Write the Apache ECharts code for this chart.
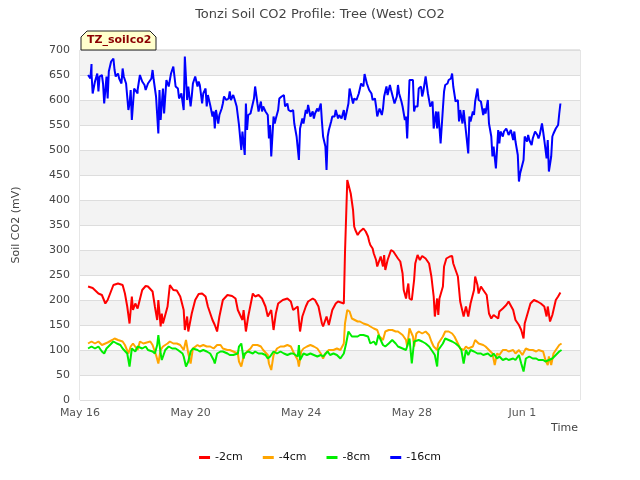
<!DOCTYPE html>
<html>
<head>
<meta charset="utf-8">
<script src="https://cdn.jsdelivr.net/npm/echarts@6/dist/echarts.min.js"></script>
<style>html,body{margin:0;padding:0;background:#fff}#c{width:640px;height:480px}</style>
</head>
<body>
<div id="c"></div>
<script>
// time in hours since May 16 00:00
var tickLabels = ['May 16','May 20','May 24','May 28','Jun 1'];
var seriesNames = ['-2cm','-4cm','-8cm','-16cm'];
var seriesColors = ['#ff0000','#ffa500','#00ee00','#0000ff'];

var red = [[7,227],[11,224],[16,213],[19,210],[22,193],[24,200],[29,230],[33,233],[37,230],[39,213],[41,187],[43,153],[45,207],[46,180],[48,193],[50,183],[54,220],[57,228],[59,227],[63,217],[65,187],[67,160],[68,200],[70,147],[71,173],[72,153],[76,187],[78,230],[81,220],[84,219],[87,207],[90,180],[91,140],[93,167],[94,137],[97,173],[100,200],[103,212],[106,213],[109,207],[111,187],[115,160],[117,150],[119,137],[121,167],[124,200],[128,210],[132,208],[135,203],[137,180],[141,160],[142,180],[144,137],[146,167],[150,213],[152,207],[155,210],[158,203],[161,187],[163,167],[166,180],[168,140],[170,173],[172,193],[176,200],[180,203],[183,197],[185,180],[189,187],[190,160],[191,137],[193,167],[196,187],[198,197],[202,203],[204,200],[207,187],[210,153],[211,147],[214,167],[216,150],[219,180],[222,193],[224,197],[229,193],[230,293],[232,440],[233,443],[235,413],[237,380],[238,347],[239,340],[241,330],[243,337],[246,343],[248,337],[250,327],[251,317],[252,310],[254,303],[255,293],[257,280],[258,267],[259,263],[261,287],[263,267],[264,290],[265,260],[267,280],[270,300],[272,297],[276,283],[278,277],[280,253],[281,220],[283,203],[284,220],[285,233],[286,203],[288,200],[290,240],[291,273],[293,290],[295,280],[297,288],[300,283],[303,273],[305,247],[307,207],[308,167],[310,203],[311,170],[312,203],[315,227],[316,267],[318,283],[321,287],[323,288],[324,273],[328,247],[330,197],[333,167],[335,187],[337,167],[339,193],[342,220],[343,247],[345,230],[346,213],[348,227],[350,220],[353,210],[355,173],[357,163],[359,170],[363,163],[364,177],[367,183],[370,190],[372,197],[376,180],[378,160],[381,150],[383,140],[385,123],[386,153],[389,177],[391,193],[394,200],[397,197],[400,193],[403,187],[405,167],[406,187],[408,157],[410,170],[411,167],[413,200],[415,207],[417,215]];

var orange = [[7,113],[10,117],[13,113],[16,117],[19,110],[22,113],[24,115],[28,120],[30,123],[33,120],[37,117],[39,110],[42,93],[44,107],[46,113],[50,100],[52,117],[55,113],[58,115],[61,117],[63,110],[66,90],[68,73],[70,100],[72,107],[76,113],[78,117],[81,113],[84,113],[87,110],[90,100],[92,120],[94,93],[96,73],[98,103],[102,110],[104,107],[107,110],[110,107],[113,107],[116,103],[119,110],[122,110],[124,103],[128,100],[130,100],[133,97],[137,93],[138,77],[140,67],[142,87],[145,97],[148,103],[150,110],[154,110],[157,107],[159,100],[163,90],[164,73],[166,60],[168,90],[171,103],[174,107],[177,107],[180,110],[183,107],[185,97],[189,80],[190,67],[192,97],[194,103],[197,107],[200,110],[203,107],[206,103],[209,93],[211,83],[213,93],[216,100],[217,97],[220,100],[223,103],[226,100],[229,113],[230,153],[232,180],[234,177],[236,163],[237,160],[241,157],[243,157],[246,153],[250,150],[252,147],[255,143],[258,140],[260,127],[263,120],[265,137],[268,140],[271,140],[274,137],[276,137],[280,130],[283,120],[284,107],[286,143],[289,127],[290,107],[292,133],[294,137],[297,133],[300,137],[303,130],[305,117],[307,107],[310,100],[311,113],[315,127],[317,137],[320,137],[323,133],[325,127],[328,113],[330,103],[333,100],[335,107],[337,103],[341,107],[343,120],[346,113],[350,110],[352,107],[355,100],[358,93],[360,70],[362,93],[364,90],[367,100],[370,100],[372,97],[376,100],[378,93],[381,100],[384,90],[387,103],[390,100],[393,100],[396,97],[398,100],[402,97],[404,80],[406,70],[407,87],[409,70],[411,93],[413,100],[416,110],[418,113]];

var green = [[7,103],[10,107],[13,103],[16,107],[19,97],[21,93],[23,103],[26,110],[29,117],[32,113],[35,110],[37,103],[41,93],[43,67],[45,103],[48,97],[50,107],[54,103],[57,107],[59,100],[63,97],[65,93],[67,110],[68,130],[70,93],[71,80],[74,100],[77,107],[80,103],[83,103],[85,100],[89,93],[90,87],[92,67],[94,77],[96,97],[98,103],[102,100],[104,97],[107,100],[110,97],[113,93],[116,80],[117,73],[119,93],[122,97],[124,97],[128,93],[130,90],[133,90],[137,93],[138,107],[140,113],[142,83],[143,93],[146,97],[150,93],[152,97],[155,93],[158,93],[161,90],[163,83],[165,87],[168,97],[171,93],[174,97],[177,93],[180,90],[183,93],[185,93],[189,87],[190,110],[191,80],[194,93],[197,90],[200,93],[203,90],[206,87],[209,90],[211,87],[215,97],[217,90],[220,93],[223,90],[226,83],[229,93],[231,113],[233,137],[236,127],[237,130],[241,127],[243,130],[246,130],[250,127],[252,113],[255,117],[257,110],[259,130],[263,110],[265,107],[268,113],[271,120],[274,113],[276,107],[280,103],[283,100],[284,100],[286,123],[288,73],[290,117],[291,117],[294,120],[297,117],[300,113],[303,107],[306,97],[308,90],[310,67],[311,100],[315,113],[317,123],[320,120],[323,117],[326,113],[329,107],[331,100],[333,73],[335,100],[337,90],[339,100],[342,97],[345,93],[348,93],[350,90],[354,93],[357,87],[359,93],[362,83],[364,87],[367,80],[370,83],[372,80],[376,83],[378,80],[381,90],[383,73],[385,57],[387,83],[390,87],[393,83],[396,83],[398,80],[402,80],[404,77],[407,80],[410,83],[413,90],[416,97],[418,100]];

var blue = [[7,650],[9,643],[10,672],[10,653],[11,613],[13,637],[15,653],[16,617],[17,647],[19,650],[20,633],[21,593],[23,647],[24,603],[25,657],[27,677],[29,683],[30,660],[31,647],[33,653],[34,643],[36,633],[37,663],[38,647],[40,633],[42,580],[43,593],[44,620],[45,560],[47,623],[50,613],[50,620],[52,650],[54,637],[56,630],[57,620],[59,633],[62,643],[63,660],[64,640],[66,607],[68,533],[69,620],[70,560],[72,623],[73,573],[75,640],[77,627],[77,630],[79,653],[81,667],[82,647],[83,627],[85,623],[86,603],[88,613],[90,580],[91,687],[93,600],[94,627],[96,587],[97,607],[98,633],[100,647],[102,627],[103,637],[104,630],[106,593],[107,613],[109,623],[110,587],[111,610],[113,590],[115,567],[116,577],[117,543],[118,580],[120,553],[121,570],[123,583],[124,593],[125,607],[127,600],[129,603],[130,617],[131,600],[133,610],[134,603],[136,587],[137,587],[138,550],[140,500],[141,537],[143,490],[144,593],[145,540],[146,570],[148,573],[150,593],[151,603],[152,627],[154,593],[155,577],[157,597],[158,577],[159,587],[161,577],[163,570],[164,523],[165,550],[166,487],[168,567],[169,553],[170,563],[172,580],[173,603],[175,607],[177,610],[178,587],[180,593],[181,580],[183,577],[185,580],[186,553],[188,527],[190,480],[191,543],[193,563],[194,553],[196,580],[197,573],[198,590],[200,567],[202,577],[203,563],[204,573],[206,583],[207,577],[209,593],[210,557],[211,527],[213,507],[214,460],[215,527],[216,540],[218,557],[219,567],[221,567],[222,580],[224,563],[225,570],[227,563],[229,580],[230,560],[231,557],[233,593],[234,623],[235,613],[237,593],[238,603],[240,600],[242,613],[243,617],[244,633],[246,627],[247,652],[249,633],[250,630],[251,620],[253,613],[254,600],[256,603],[257,587],[258,567],[260,583],[262,570],[263,583],[264,607],[266,627],[267,610],[269,630],[270,620],[271,617],[273,593],[275,607],[276,630],[277,613],[279,597],[280,587],[282,560],[283,567],[284,523],[286,640],[287,640],[289,640],[290,577],[291,587],[293,587],[294,623],[296,627],[297,607],[298,617],[300,647],[302,613],[303,617],[304,587],[306,597],[307,543],[309,577],[310,543],[311,577],[313,513],[315,583],[316,617],[317,630],[319,633],[320,640],[322,643],[323,653],[324,627],[326,597],[328,600],[329,557],[330,580],[332,553],[333,580],[335,537],[337,493],[338,567],[339,557],[341,577],[342,570],[343,597],[345,623],[346,600],[348,597],[350,570],[351,583],[352,573],[354,600],[355,553],[357,527],[358,487],[359,507],[361,463],[363,540],[364,513],[365,537],[367,527],[368,537],[370,543],[371,537],[372,530],[374,540],[376,520],[377,537],[378,517],[380,490],[381,437],[382,453],[383,453],[385,480],[386,527],[388,517],[389,530],[390,520],[392,510],[393,523],[395,537],[397,530],[398,523],[399,530],[401,553],[402,537],[403,520],[405,483],[406,520],[407,457],[409,487],[410,527],[411,533],[413,543],[415,550],[416,573],[417,593]];

var chart = echarts.init(document.getElementById('c'));
var font = 'DejaVu Sans';
var allData = [red, orange, green, blue];
var series = seriesNames.map(function (n, i) {
  return {
    name: n, type: 'line', data: allData[i], showSymbol: false, symbol: 'none',
    lineStyle: { color: seriesColors[i], width: 2 }, itemStyle: { color: seriesColors[i] },
    animation: false
  };
});
chart.setOption({
  animation: false,
  textStyle: { fontFamily: font },
  title: {
    text: 'Tonzi Soil CO2 Profile: Tree (West) CO2', left: 'center', top: 3,
    textStyle: { fontSize: 13, fontWeight: 'normal', color: '#444', fontFamily: font }
  },
  grid: { left: 80, right: 60, top: 50, bottom: 80, show: true, borderColor: '#cccccc', borderWidth: 1, backgroundColor: 'transparent' },
  legend: {
    bottom: 12, left: 'center', itemWidth: 11, itemHeight: 3, icon: 'rect', itemGap: 20,
    textStyle: { fontSize: 11, color: '#111', fontFamily: font },
    data: seriesNames
  },
  xAxis: {
    type: 'value', min: 0, max: 434, interval: 96,
    axisLine: { show: false }, axisTick: { show: false },
    splitLine: { show: false },
    axisLabel: { color: '#555', fontSize: 11, margin: 8, showMaxLabel: false, fontFamily: font,
      formatter: function (v) { var i = Math.round(v / 96); return tickLabels[i] || ''; } }
  },
  yAxis: {
    type: 'value', min: 0, max: 700, interval: 50,
    name: 'Soil CO2 (mV)', nameLocation: 'middle', nameGap: 58,
    nameTextStyle: { fontSize: 11, color: '#444', fontFamily: font },
    axisLine: { show: false }, axisTick: { show: false },
    axisLabel: { color: '#444', fontSize: 11, margin: 10, fontFamily: font },
    splitLine: { show: true, lineStyle: { color: '#dddddd', width: 1 } },
    splitArea: { show: true, areaStyle: { color: ['#ffffff', '#f3f3f3'] } }
  },
  graphic: [
    { type: 'text', right: 62, top: 423, style: { text: 'Time', fontSize: 11, fill: '#444', fontFamily: font } },
    { type: 'polygon', shape: { points: [[81,50],[81,37],[87,31],[150,31],[156,37],[156,50]] },
      style: { fill: '#ffffcc', stroke: '#222', lineWidth: 1 }, z: 10 },
    { type: 'text', left: 87, top: 35, style: { text: 'TZ_soilco2', fontSize: 11, fontWeight: 'bold', fill: '#8b0000', fontFamily: font }, z: 11 }
  ],
  series: series
});
</script>
</body>
</html>
